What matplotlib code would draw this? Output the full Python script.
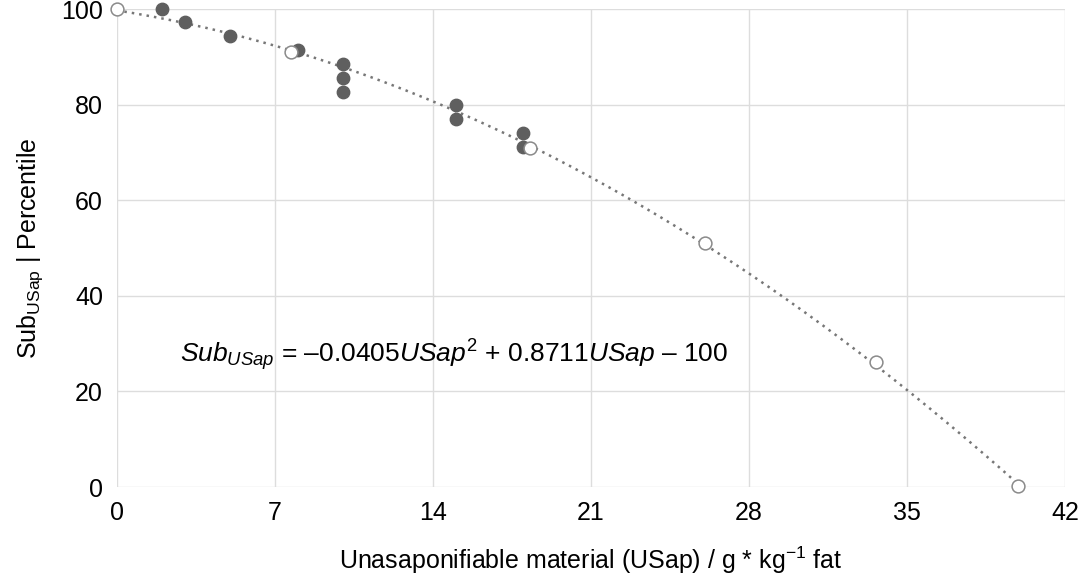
import numpy as np
import matplotlib.pyplot as plt

plt.rcParams['font.family'] = ['Liberation Sans', 'DejaVu Sans']
plt.rcParams['mathtext.fontset'] = 'custom'
plt.rcParams['mathtext.it'] = 'Liberation Sans:italic'
plt.rcParams['mathtext.rm'] = 'Liberation Sans'

# measured samples
usap_meas = [2, 3, 5, 8, 10, 10, 10, 15, 15, 18, 18]
sub_meas = [100, 97.3, 94.4, 91.4, 88.5, 85.6, 82.6, 79.9, 77.0, 74.1, 71.1]

# percentile reference points
usap_pct = [0, 7.7, 18.3, 26.05, 33.6, 39.9]
sub_pct = [100, 91.0, 71.0, 51.0, 26.1, 0.2]

fig = plt.figure(figsize=(10.87, 5.82), dpi=100)
ax = fig.add_axes([0.1076, 0.1632, 0.8724, 0.8213])

coef = np.polyfit(usap_pct, sub_pct, 2)
xs = np.linspace(0, max(usap_pct), 200)
ax.plot(xs, np.polyval(coef, xs), ls=(0, (1, 2)), color='#777777', lw=1.8, zorder=2)

ax.scatter(usap_meas, sub_meas, s=80, color='#5f5f5f', zorder=3)
ax.scatter(usap_pct, sub_pct, s=85, facecolor='white', edgecolor='#8a8a8a', lw=1.1, zorder=4)

ax.set_xlim(0, 42)
ax.set_ylim(0, 100)
ax.set_xticks(range(0, 43, 7))
ax.set_yticks(range(0, 101, 20))
ax.grid(True, color='#dddddd', lw=1)
ax.set_axisbelow(True)
for s in ax.spines.values():
    s.set_visible(False)
ax.tick_params(length=0, labelsize=18, pad=10)
for c in ax.collections:
    c.set_clip_on(False)

ax.set_xlabel('Unasaponifiable material (USap) / g * kg$^{-1}$ fat', fontsize=18, labelpad=14)
ax.set_ylabel(r'Sub$_{\mathrm{USap}}$ | Percentile', fontsize=18, labelpad=12)

ax.text(2.8, 27.6, r'$Sub_{USap}$ = –0.0405$USap^2$ + 0.8711$USap$ – 100',
        fontsize=19, va='center')

fig.savefig('out.png', dpi=100)
